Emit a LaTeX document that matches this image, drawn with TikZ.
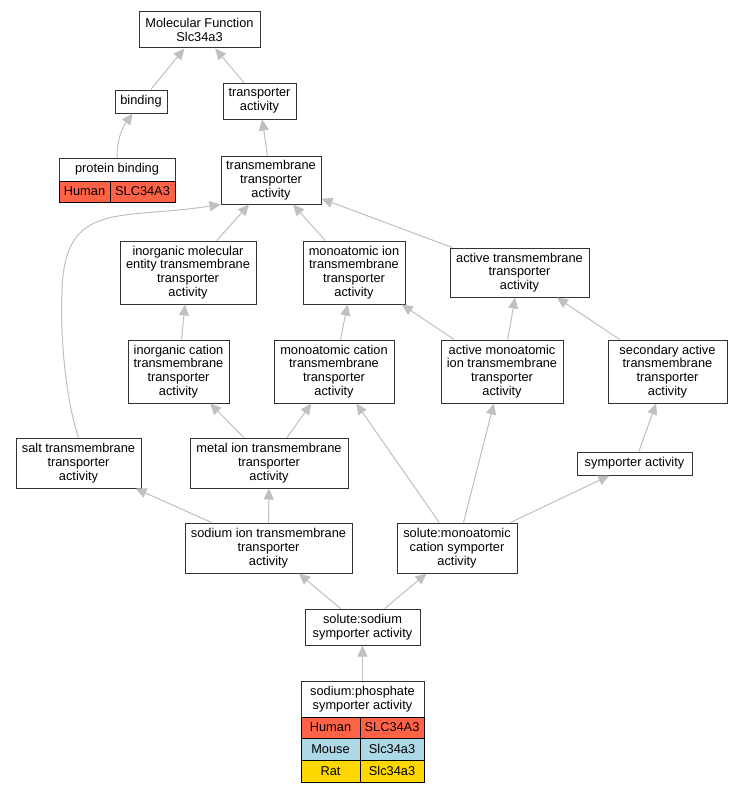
\documentclass[tikz,border=0pt]{standalone}
\usepackage{fontspec}
\setmainfont{Liberation Sans}
\usetikzlibrary{arrows.meta}
\definecolor{edgegray}{HTML}{C0C0C0}
\definecolor{boxline}{HTML}{333333}
\definecolor{human}{HTML}{FF6347}
\definecolor{mouse}{HTML}{ADD8E6}
\definecolor{rat}{HTML}{FFD700}
\newcommand\bx[6]{\node[box, minimum width={#4-#2}, minimum height={#5-#3}] (#1) at ({(#2+#4)/2},{(#3+#5)/2}) {#6};}
\newcommand\cellbx[7]{\node[cellbox, fill=#6, minimum width={#4-#2}, minimum height={#5-#3}] (#1) at ({(#2+#4)/2},{(#3+#5)/2}) {#7};}
\begin{document}
\begin{tikzpicture}[x=1pt,y=-1pt,
  box/.style={draw=boxline, line width=1pt, fill=white, inner sep=0pt, align=center,
    font=\fontsize{12.8}{13.8}\selectfont},
  cellbox/.style={draw=black, line width=0.9pt, inner sep=0pt, align=center,
    font=\fontsize{12.8}{13.8}\selectfont},
  edge/.style={draw=edgegray, line width=1pt, -{Triangle[length=11pt,width=10pt,fill=edgegray]}}]
\useasboundingbox[fill=white] (0,0) rectangle (733,792);

\bx{mf}{139}{12}{260}{48}{Molecular Function\\Slc34a3}
\bx{bind}{115}{90}{167}{113}{binding}
\bx{ta}{223}{83}{296}{119}{transporter\\activity}
\bx{pb}{59}{158}{175}{181}{protein binding}
\cellbx{pbh}{59}{181}{110}{202}{human}{Human}
\cellbx{pbg}{110}{181}{175}{202}{human}{SLC34A3}
\bx{tta}{221}{156}{321}{204}{transmembrane\\transporter\\activity}
\bx{imt}{120}{241}{256}{304}{inorganic molecular\\entity transmembrane\\transporter\\activity}
\bx{mit}{303}{241}{405}{304}{monoatomic ion\\transmembrane\\transporter\\activity}
\bx{ata}{450}{248}{589}{297}{active transmembrane\\transporter\\activity}
\bx{ict}{128}{340}{229}{403}{inorganic cation\\transmembrane\\transporter\\activity}
\bx{mct}{274}{340}{394}{403}{monoatomic cation\\transmembrane\\transporter\\activity}
\bx{amit}{441}{340}{563}{403}{active monoatomic\\ion transmembrane\\transporter\\activity}
\bx{sat}{608}{340}{727}{403}{secondary active\\transmembrane\\transporter\\activity}
\bx{salt}{16}{438}{141}{488}{salt transmembrane\\transporter\\activity}
\bx{metal}{190}{438}{348}{488}{metal ion transmembrane\\transporter\\activity}
\bx{symp}{577}{452}{692}{475}{symporter activity}
\bx{sodium}{185}{523}{352}{573}{sodium ion transmembrane\\transporter\\activity}
\bx{smc}{397}{523}{517}{573}{solute:monoatomic\\cation symporter\\activity}
\bx{ss}{305}{609}{420}{645}{solute:sodium\\symporter activity}
\bx{sp}{301}{681}{424}{717}{sodium:phosphate\\symporter activity}
\cellbx{sph}{301}{717}{360}{738}{human}{Human}
\cellbx{spg}{360}{717}{424}{738}{human}{SLC34A3}
\cellbx{spm}{301}{738}{360}{760}{mouse}{Mouse}
\cellbx{spmg}{360}{738}{424}{760}{mouse}{Slc34a3}
\cellbx{spr}{301}{760}{360}{782}{rat}{Rat}
\cellbx{sprg}{360}{760}{424}{782}{rat}{Slc34a3}

\draw[edge] (bind) -- (mf);
\draw[edge] (ta) -- (mf);
\draw[edge] (pb.north) .. controls (117,140) and (122,128) .. (bind.235);
\draw[edge] (tta) -- (ta);
\draw[edge] (imt) -- (tta);
\draw[edge] (mit) -- (tta);
\draw[edge] (ata) -- (tta);
\draw[edge] (salt.north) .. controls (66,400) and (60,340) .. (62,290)
  .. controls (65,200) and (120,220) .. (tta.south west);
\draw[edge] (ict) -- (imt);
\draw[edge] (mct) -- (mit);
\draw[edge] (amit) -- (mit);
\draw[edge] (amit) -- (ata);
\draw[edge] (sat) -- (ata);
\draw[edge] (metal) -- (ict);
\draw[edge] (metal) -- (mct);
\draw[edge] (sodium) -- (salt);
\draw[edge] (sodium) -- (metal);
\draw[edge] (symp) -- (sat);
\draw[edge] (smc) -- (mct);
\draw[edge] (smc) -- (amit);
\draw[edge] (smc) -- (symp);
\draw[edge] (ss) -- (sodium);
\draw[edge] (ss) -- (smc);
\draw[edge] (sp) -- (ss);
\end{tikzpicture}
\end{document}
